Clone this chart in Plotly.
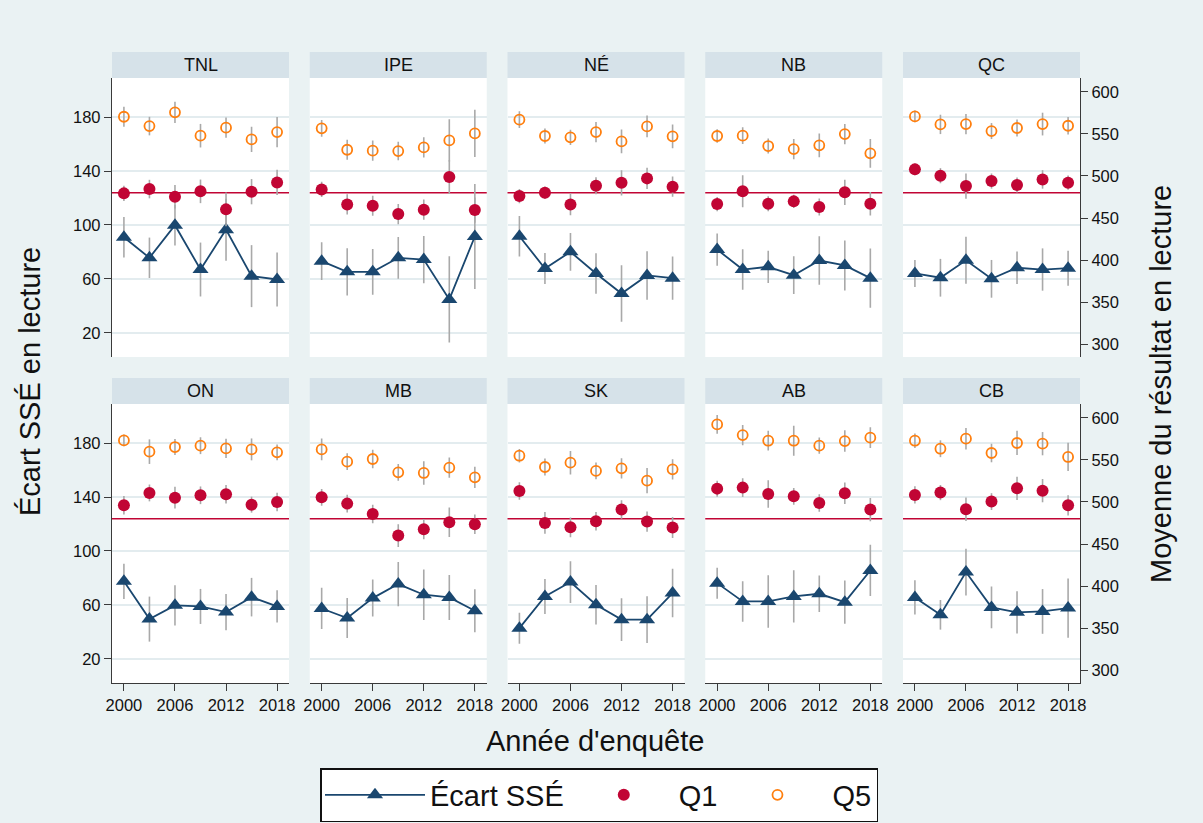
import plotly.graph_objects as go

# ---- data -------------------------------------------------------------
YEARS = [2000, 2003, 2006, 2009, 2012, 2015, 2018]
PROVINCES = ["TNL", "IPE", "NÉ", "NB", "QC", "ON", "MB", "SK", "AB", "CB"]
X_TICKS = [2000, 2006, 2012, 2018]
LEFT_TICKS = [20, 60, 100, 140, 180]
RIGHT_TICKS = [300, 350, 400, 450, 500, 550, 600]
CANADA_REF = 480  # horizontal reference line (right axis)

# Écart SSÉ (left axis), one row per province, in PROVINCES order
GAP = [
    [90.9, 75.6, 99.8, 66.9, 96.5, 62.0, 59.5],
    [73.1, 65.2, 65.2, 75.6, 74.3, 44.7, 91.4],
    [91.6, 67.7, 80.0, 64.0, 49.1, 62.5, 60.5],
    [81.7, 66.9, 68.9, 62.7, 73.6, 69.9, 60.5],
    [64.0, 60.8, 73.8, 60.0, 68.2, 66.9, 67.9],
    [77.4, 49.4, 59.6, 58.8, 54.6, 65.7, 58.8],
    [57.3, 50.2, 65.0, 75.4, 67.5, 65.5, 55.6],
    [42.7, 66.2, 76.9, 60.1, 49.0, 49.0, 68.7],
    [76.1, 62.5, 62.5, 66.2, 68.2, 62.0, 85.5],
    [65.5, 52.6, 84.3, 58.1, 54.4, 55.1, 57.6],
]
GAP_CI = [
    [15, 15, 15, 20, 23, 23, 20],
    [14, 17.5, 17, 15.5, 17.5, 32, 39],
    [15, 11.5, 14, 15, 21, 18, 16],
    [12, 15, 12, 14, 18, 18.5, 22],
    [10, 14, 17.5, 14, 12, 15.7, 13],
    [13, 16.7, 15, 13, 13.5, 14.3, 12],
    [15.3, 14.8, 13.7, 16.4, 18.8, 16.7, 16],
    [11.5, 13, 15.5, 14.7, 15.8, 17.4, 18],
    [11.5, 15, 19.5, 19.4, 13.5, 16, 19],
    [12.7, 11, 17.3, 15.5, 15.7, 16.6, 22],
]

# Mean reading score, lowest SES quintile (right axis)
Q1 = [
    [479.3, 484.4, 475.3, 481.7, 460.3, 481.3, 492.3],
    [484.0, 466.2, 464.6, 454.7, 459.9, 498.7, 459.5],
    [476.1, 480.1, 466.2, 488.4, 491.9, 497.1, 487.2],
    [466.6, 481.7, 467.0, 469.8, 463.1, 480.5, 467.0],
    [507.8, 500.3, 488.0, 493.9, 489.2, 495.9, 492.0],
    [496.0, 510.7, 505.1, 507.9, 509.1, 496.8, 500.0],
    [505.5, 498.0, 485.8, 460.1, 467.6, 475.9, 473.5],
    [513.0, 475.1, 469.9, 477.1, 490.9, 476.7, 469.6],
    [515.8, 517.0, 509.5, 506.7, 498.8, 510.3, 490.9],
    [508.3, 511.1, 491.3, 500.4, 516.2, 513.4, 496.0],
]
Q1_CI = [
    [9, 11, 14, 14, 20, 15, 15],
    [9, 12, 12, 12, 12, 20, 15],
    [8.5, 7.5, 13, 10, 15, 12.7, 12],
    [8.5, 19, 9, 8, 10, 15, 14],
    [7, 9, 15, 9, 9, 11, 8.5],
    [11, 10, 13, 10.5, 11, 9.5, 11],
    [10, 10.5, 11, 13.5, 12, 17.5, 11.5],
    [10.5, 13, 11.7, 11, 11, 12, 12.5],
    [9.5, 11, 16.4, 10, 10.3, 12.8, 13.8],
    [10.3, 9, 14, 10, 13.8, 13.8, 12],
]

# Mean reading score, highest SES quintile (right axis)
Q5 = [
    [570.3, 559.2, 575.5, 547.8, 557.3, 543.4, 552.1],
    [556.5, 531.1, 530.0, 529.5, 533.9, 542.2, 550.5],
    [566.8, 547.4, 545.8, 552.1, 541.0, 558.8, 547.0],
    [547.4, 547.8, 535.5, 531.9, 536.3, 549.7, 526.8],
    [570.7, 561.2, 561.6, 553.3, 556.9, 561.6, 559.6],
    [573.1, 559.7, 565.2, 566.8, 563.6, 562.4, 558.9],
    [562.4, 547.8, 551.0, 535.2, 534.4, 540.7, 529.2],
    [554.9, 541.5, 546.6, 536.8, 539.9, 525.3, 538.7],
    [592.1, 579.4, 572.7, 572.7, 566.8, 572.3, 576.3],
    [572.7, 563.2, 575.1, 558.1, 570.0, 569.2, 553.4],
]
Q5_CI = [
    [12, 11, 12.7, 14, 12, 15, 18],
    [10, 12, 12, 11, 12, 25, 28],
    [10, 9, 9, 12, 14, 13, 14],
    [8, 10, 9, 12, 14, 12, 17],
    [7, 11.5, 12, 9.5, 10, 13.5, 10.5],
    [7, 14.6, 9.5, 10, 11.5, 13, 9.3],
    [13, 10, 11, 10, 14, 12, 12.5],
    [8, 10, 14, 10, 12, 15, 12],
    [11, 12, 11.7, 17.8, 9.7, 12.8, 12.3],
    [8.5, 10, 12.8, 11, 14.4, 13.8, 16.8],
]

# ---- style --------------------------------------------------------------
W, H = 1203, 823
FONT = "Liberation Sans, Arial, Helvetica, sans-serif"
BG = "#EAF2F3"
STRIP = "#D6E2E9"
GRID = "#E3ECEF"
NAVY = "#1A476F"
CRIMSON = "#C10534"
ORANGE = "#FF7F0E"
CI_GRAY = "#A9A9A9"
AXIS = "#3A3A3A"
TEXT = "#111111"

PANEL_W = 177
COL_LEFT = [112 + c * 197.75 for c in range(5)]
ROW_TOP = [78, 404]
PANEL_H = 279
STRIP_H = 26
X_RANGE = [1998.6, 2019.4]
LEFT_RANGE = [2, 209]
RIGHT_RANGE = [285, 616.3]


def px(x):
    return x / W


def py(y):
    return 1 - y / H


fig = go.Figure()
shapes = []
annotations = []
axes = {}

for i, prov in enumerate(PROVINCES):
    r, c = divmod(i, 5)
    xn = i + 1
    yl = 2 * i + 1
    yr = 2 * i + 2
    xid = "x" if xn == 1 else f"x{xn}"
    ylid = "y" if yl == 1 else f"y{yl}"
    yrid = f"y{yr}"
    xkey = "xaxis" if xn == 1 else f"xaxis{xn}"
    ylkey = "yaxis" if yl == 1 else f"yaxis{yl}"
    yrkey = f"yaxis{yr}"

    x0, x1 = COL_LEFT[c], COL_LEFT[c] + PANEL_W
    top, bot = ROW_TOP[r], ROW_TOP[r] + PANEL_H
    bottom_row = r == 1

    axes[xkey] = dict(
        domain=[px(x0), px(x1)], anchor=ylid, range=X_RANGE,
        automargin=False,
        tickvals=X_TICKS if bottom_row else [],
        showticklabels=bottom_row, ticks="outside" if bottom_row else "",
        ticklen=7, tickwidth=1.3, tickcolor=AXIS,
        showline=bottom_row, linecolor=AXIS, linewidth=1.3,
        showgrid=False, zeroline=False,
        tickfont=dict(size=16.5, family=FONT, color=TEXT),
    )
    axes[ylkey] = dict(
        domain=[py(bot), py(top)], anchor=xid, range=LEFT_RANGE,
        automargin=False,
        tickvals=LEFT_TICKS, showticklabels=(c == 0),
        ticks="outside" if c == 0 else "", ticklen=7, tickwidth=1.3,
        tickcolor=AXIS, showline=(c == 0), linecolor=AXIS, linewidth=1.3,
        showgrid=True, gridcolor=GRID, gridwidth=1.6, zeroline=False,
        tickfont=dict(size=16.5, family=FONT, color=TEXT),
    )
    axes[yrkey] = dict(
        overlaying=ylid, anchor=xid, side="right", range=RIGHT_RANGE,
        automargin=False,
        tickvals=RIGHT_TICKS, showticklabels=(c == 4),
        ticks="outside" if c == 4 else "", ticklen=7, tickwidth=1.3,
        tickcolor=AXIS, showline=(c == 4), linecolor=AXIS, linewidth=1.3,
        showgrid=False, zeroline=False,
        tickfont=dict(size=16.5, family=FONT, color=TEXT),
    )

    # strip with the province name
    shapes.append(dict(
        type="rect", xref="paper", yref="paper",
        x0=px(x0), x1=px(x1), y0=py(top), y1=py(top - STRIP_H),
        fillcolor=STRIP, line=dict(width=0), layer="above",
    ))
    annotations.append(dict(
        text=prov, xref="paper", yref="paper",
        x=px((x0 + x1) / 2), y=py(top - STRIP_H / 2),
        xanchor="center", yanchor="middle", showarrow=False,
        font=dict(size=18, family=FONT, color=TEXT),
    ))

    # reference line
    shapes.append(dict(
        type="line", xref=f"{xid} domain", yref=yrid,
        x0=0, x1=1, y0=CANADA_REF, y1=CANADA_REF,
        line=dict(color=CRIMSON, width=1.6), layer="below",
    ))

    first = i == 0
    fig.add_trace(go.Scatter(
        x=YEARS, y=GAP[i], xaxis=xid, yaxis=ylid,
        mode="lines+markers", name="Écart SSÉ", legendgroup="gap",
        showlegend=first,
        line=dict(color=NAVY, width=1.8),
        marker=dict(symbol="triangle-up", size=14, color=NAVY),
        error_y=dict(type="data", array=GAP_CI[i], color=CI_GRAY,
                     thickness=1.6, width=0),
    ))
    fig.add_trace(go.Scatter(
        x=YEARS, y=Q1[i], xaxis=xid, yaxis=yrid,
        mode="markers", name="Q1", legendgroup="q1", showlegend=first,
        marker=dict(symbol="circle", size=12, color=CRIMSON),
        error_y=dict(type="data", array=Q1_CI[i], color=CI_GRAY,
                     thickness=1.6, width=0),
    ))
    fig.add_trace(go.Scatter(
        x=YEARS, y=Q5[i], xaxis=xid, yaxis=yrid,
        mode="markers", name="Q5", legendgroup="q5", showlegend=first,
        marker=dict(symbol="circle-open", size=10, color=ORANGE,
                    line=dict(width=1.8, color=ORANGE)),
        error_y=dict(type="data", array=Q5_CI[i], color=CI_GRAY,
                     thickness=1.6, width=0),
    ))

# axis titles
annotations += [
    dict(text="Écart SSÉ en lecture", xref="paper", yref="paper",
         x=px(30), y=py(382), textangle=-90, showarrow=False,
         xanchor="center", yanchor="middle",
         font=dict(size=29, family=FONT, color=TEXT)),
    dict(text="Moyenne du résultat en lecture", xref="paper", yref="paper",
         x=px(1161), y=py(384), textangle=-90, showarrow=False,
         xanchor="center", yanchor="middle",
         font=dict(size=29, family=FONT, color=TEXT)),
    dict(text="Année d'enquête", xref="paper", yref="paper",
         x=px(595), y=py(741), showarrow=False,
         xanchor="center", yanchor="middle",
         font=dict(size=29, family=FONT, color=TEXT)),
]

fig.update_layout(
    width=W, height=H,
    margin=dict(l=0, r=0, t=0, b=0, autoexpand=False),
    paper_bgcolor=BG, plot_bgcolor="white",
    font=dict(family=FONT, color=TEXT),
    shapes=shapes, annotations=annotations,
    legend=dict(
        orientation="h", x=px(320), y=py(768), xanchor="left", yanchor="top",
        bgcolor="white", bordercolor=TEXT, borderwidth=1.5,
        font=dict(size=29, family=FONT, color=TEXT),
        itemwidth=100, itemsizing="trace", tracegroupgap=0,
    ),
    **axes,
)
fig.write_html("out.html")
